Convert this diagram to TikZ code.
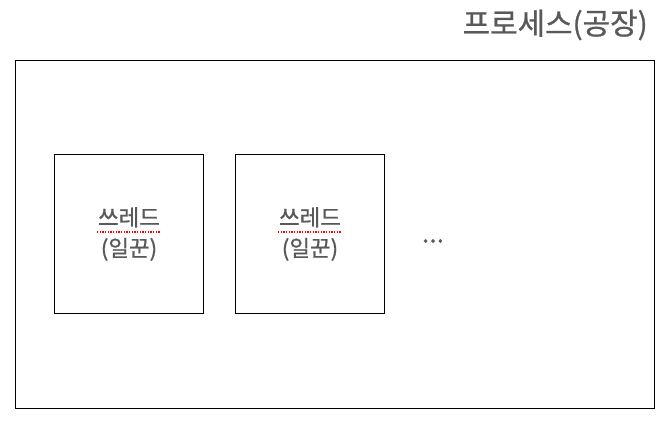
\documentclass[tikz,border=0pt]{standalone}
\usepackage{fontspec}
\newfontfamily\kr{Noto Sans CJK KR}[FakeBold=0.8]
\definecolor{txt}{HTML}{595959}
\begin{document}
\begin{tikzpicture}[x=0.75pt,y=-0.75pt,
  box/.style={draw=black,line width=0.75pt},
  lbl/.style={text=txt,font=\kr\fontsize{16.8}{23}\selectfont,align=center,inner sep=0pt},
  squig/.style={red,line width=0.9pt,dash pattern=on 1pt off 1pt}]
\useasboundingbox (0,0) rectangle (670,430);
\draw[box] (15,60) rectangle (654,408);
\node[anchor=east,text=txt,font=\kr\fontsize{22.4}{28}\selectfont,inner sep=0pt] (proc) at (648,25) {프로세스(공장)};
\node[box,minimum width=111.75pt,minimum height=119.25pt,anchor=north west,inner sep=0pt] (t1) at (54,154) {};
\node[box,minimum width=111.75pt,minimum height=119.25pt,anchor=north west,inner sep=0pt] (t2) at (235,154) {};
\node[lbl] (l1) at (129,234) {쓰레드\\(일꾼)};
\node[lbl] (l2) at (310,234) {쓰레드\\(일꾼)};
\coordinate (u1a) at (97,232); \coordinate (u1b) at (161,232);
\coordinate (u2a) at (278,232); \coordinate (u2b) at (342,232);
\draw[squig] (u1a) -- (u1b);
\draw[squig] (u2a) -- (u2b);
\node[text=txt,font=\kr\fontsize{20}{24}\selectfont,inner sep=0pt] (dots) at (433,241) {...};
\end{tikzpicture}
\end{document}
